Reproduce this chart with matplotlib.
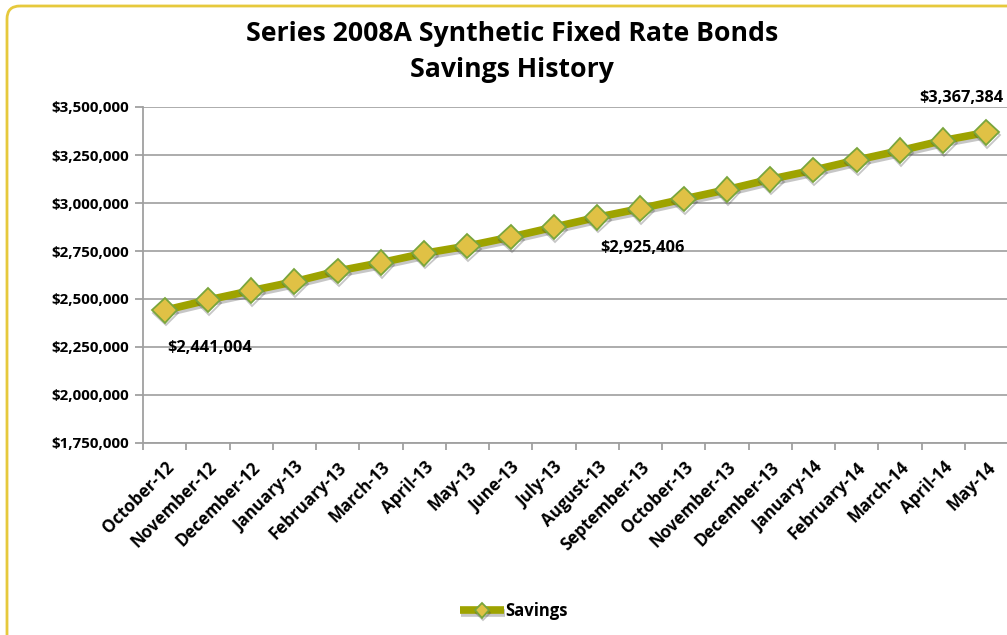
import numpy as np
import matplotlib
matplotlib.use("Agg")
import matplotlib.pyplot as plt
import matplotlib.patches as patches
import matplotlib.patheffects as pe
from matplotlib.ticker import FuncFormatter, FixedLocator

plt.rcParams["font.family"] = ["Open Sans", "DejaVu Sans"]

months = ["October-12", "November-12", "December-12", "January-13", "February-13",
          "March-13", "April-13", "May-13", "June-13", "July-13", "August-13",
          "September-13", "October-13", "November-13", "December-13", "January-14",
          "February-14", "March-14", "April-14", "May-14"]
savings = [2441004, 2494800, 2543200, 2590100, 2645800, 2689100, 2738000,
           2775900, 2822500, 2874200, 2925406, 2971000, 3020700, 3069400,
           3123400, 3170900, 3223600, 3272700, 3325400, 3367384]
labelled = [0, 10, 19]

W, H = 1007, 635
fig = plt.figure(figsize=(W/100, H/100), dpi=100)

# rounded yellow frame, partly cut off on right / bottom
bg = fig.add_axes([0, 0, 1, 1])
bg.set_xlim(0, W)
bg.set_ylim(H, 0)
bg.axis("off")
frame = patches.FancyBboxPatch((7, 6), 1040, 660, boxstyle="round,pad=0,rounding_size=13",
                               fill=False, ec="#E6C93C", lw=2.0)
bg.add_patch(frame)

ax = fig.add_axes([143/W, 1-443/H, 865/W, 336/H])
x = np.arange(len(months))
ax.plot(x, savings, color="#9EA300", lw=5.5, solid_capstyle="butt", zorder=3,
        marker="D", ms=12.5, mfc="#E0C145", mec="#79A53C", mew=1.3, label="Savings",
        path_effects=[pe.SimpleLineShadow(offset=(0.8, -2), shadow_color="#444444", alpha=0.3), pe.Normal()])

ax.set_xlim(-0.5, len(months)-0.5)
ax.set_ylim(1750000, 3500000)
ax.set_yticks(np.arange(1750000, 3500001, 250000))
ax.yaxis.set_major_formatter(FuncFormatter(lambda v, p: "${:,.0f}".format(v)))
ax.grid(axis="y", color="#A6A6A6", lw=1.3)
ax.set_axisbelow(True)

ax.set_xticks(x)
ax.set_xticklabels(months, rotation=45, ha="right", rotation_mode="anchor", fontweight="bold", fontsize=12.2)
ax.xaxis.set_minor_locator(FixedLocator(np.arange(-0.5, len(months), 1.0)))
ax.tick_params(axis="x", which="major", length=0, pad=11)
ax.tick_params(axis="x", which="minor", length=5, color="#A0A0A0", width=1.3)
ax.tick_params(axis="y", length=6, color="#A0A0A0", width=1.3, labelsize=10.9, pad=4)
for t in ax.get_yticklabels():
    t.set_fontweight("bold")

for s in ["top", "right"]:
    ax.spines[s].set_visible(False)
for s in ["left", "bottom"]:
    ax.spines[s].set_color("#A0A0A0")
    ax.spines[s].set_linewidth(1.3)

offsets = {0: (3, -38, "left"), 10: (3, -31, "left"), 19: (17, 34, "right")}
for i in labelled:
    dx, dy, ha = offsets[i]
    ax.annotate("${:,.0f}".format(savings[i]), (x[i], savings[i]), xytext=(dx*0.72, dy*0.72),
                textcoords="offset points", ha=ha, va="center", fontsize=11.8, fontweight="bold",
                annotation_clip=False, zorder=5)

fig.text(512/W, 1-52/H, "Series 2008A Synthetic Fixed Rate Bonds\nSavings History",
         ha="center", va="center", fontsize=19.2, fontweight="bold", linespacing=1.48)

leg = fig.legend(*ax.get_legend_handles_labels(), loc="center", bbox_to_anchor=(514/W, 1-611/H),
                 frameon=False, prop={"weight": "bold", "size": 12}, handlelength=2.6,
                 handletextpad=0.1, markerscale=0.6)

fig.savefig("out.png", dpi=100)
